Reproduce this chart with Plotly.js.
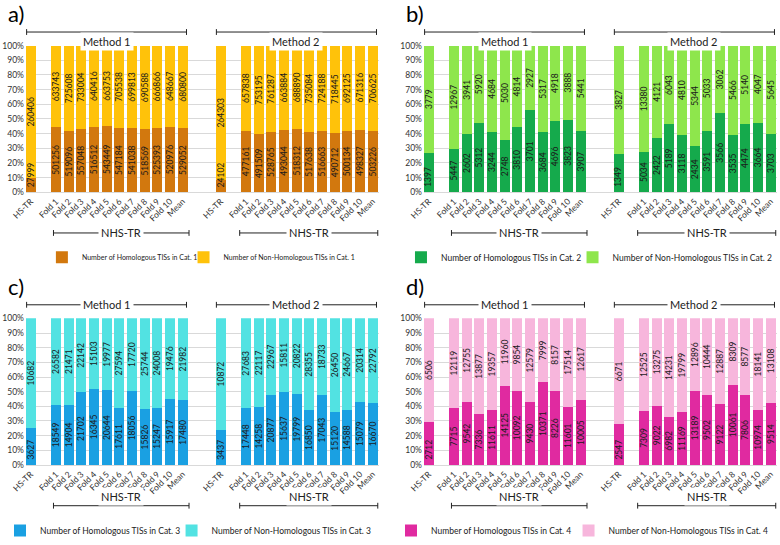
<!DOCTYPE html>
<html>
<head>
<meta charset="utf-8">
<script src="https://cdn.plot.ly/plotly-3.0.1.min.js"></script>
<style>
  body { margin: 0; background: #fff; }
  #graph { width: 780px; height: 545px; }
</style>
</head>
<body>
<div id="graph"></div>
<script>
// bar categories (same for every panel and both methods)
var categories = ['HS-TR', 'Fold 1', 'Fold 2', 'Fold 3', 'Fold 4', 'Fold 5', 'Fold 6',
                  'Fold 7', 'Fold 8', 'Fold 9', 'Fold 10', 'Mean'];

// a) Cat. 1
var cat1M1Hom = [27999, 501256, 519096, 557048, 516512, 543449, 547184, 541038, 518569, 525393, 520976, 529052];
var cat1M1Non = [260406, 633743, 725608, 733004, 640416, 663753, 705538, 699813, 690588, 666866, 648667, 680800];
var cat1M2Hom = [24102, 477161, 491509, 528765, 493044, 518312, 517638, 516663, 490712, 500134, 498327, 503226];
var cat1M2Non = [264303, 657838, 753195, 761287, 663884, 688890, 735084, 724188, 718445, 692125, 671316, 706625];

// b) Cat. 2
var cat2M1Hom = [1397, 5447, 2602, 5312, 3244, 2748, 3810, 3701, 3684, 4696, 3823, 3907];
var cat2M1Non = [3779, 12967, 3941, 5920, 4684, 5030, 4814, 2927, 5317, 4918, 3888, 5441];
var cat2M2Hom = [1349, 5034, 2422, 5189, 3118, 2434, 3591, 3566, 3535, 4474, 3664, 3703];
var cat2M2Non = [3827, 13380, 4121, 6043, 4810, 5344, 5033, 3062, 5466, 5140, 4047, 5645];

// c) Cat. 3
var cat3M1Hom = [3627, 18549, 14904, 21702, 16345, 20644, 17611, 18056, 15826, 15247, 15917, 17480];
var cat3M1Non = [10682, 26582, 21471, 22142, 15103, 19977, 27594, 17720, 25744, 24008, 19476, 21982];
var cat3M2Hom = [3437, 17448, 14258, 20877, 15637, 19799, 16850, 17043, 15120, 14588, 15079, 16670];
var cat3M2Non = [10872, 27683, 22117, 22967, 15811, 20822, 28355, 18733, 26450, 24667, 20314, 22792];

// d) Cat. 4
var cat4M1Hom = [2712, 7715, 9542, 7336, 11611, 14125, 10092, 9430, 10371, 8226, 11601, 10005];
var cat4M1Non = [6506, 12119, 12755, 13877, 19357, 11960, 9854, 12579, 7999, 8157, 17514, 12617];
var cat4M2Hom = [2547, 7309, 9022, 6982, 11169, 13189, 9502, 9122, 10061, 7806, 10974, 9514];
var cat4M2Non = [6671, 12525, 13275, 14231, 19799, 12896, 10444, 12887, 8309, 8577, 18141, 13108];

var W = 780, H = 545;
var narrow = '"Liberation Sans Narrow", Lato, sans-serif';
var labelFont = 'Lato, "Open Sans", sans-serif';

// slot on the x axis: HS-TR, empty slot, folds, mean ; method 2 starts 15 slots later
function slots(offset) {
    return categories.map(function (c, i) { return (i === 0 ? 0 : i + 1) + offset; });
}
var xM1 = slots(0), xM2 = slots(15);
var xPos = xM1.concat(xM2);
var tickText = categories.concat(categories);

var panels = [
    {ax: '', letter: 'a)', cat: 1, m1h: cat1M1Hom, m2h: cat1M2Hom, m1n: cat1M1Non, m2n: cat1M2Non,
     cHom: '#D2780E', cNon: '#FFC20A', x0: 24, x1: 378, top: 47, bot: 198,
     t1: 80, t2: 222, ly: 259, lfont: 7},
    {ax: '2', letter: 'b)', cat: 2, m1h: cat2M1Hom, m2h: cat2M2Hom, m1n: cat2M1Non, m2n: cat2M2Non,
     cHom: '#15AA4C', cNon: '#8EE64C', x0: 423, x1: 777, top: 47, bot: 198,
     t1: 440, t2: 612, ly: 259, lfont: 8.5},
    {ax: '3', letter: 'c)', cat: 3, m1h: cat3M1Hom, m2h: cat3M2Hom, m1n: cat3M1Non, m2n: cat3M2Non,
     cHom: '#1AA0E2', cNon: '#52E2E2', x0: 24, x1: 378, top: 328, bot: 479,
     t1: 38, t2: 210, ly: 541, lfont: 8.5},
    {ax: '4', letter: 'd)', cat: 4, m1h: cat4M1Hom, m2h: cat4M2Hom, m1n: cat4M1Non, m2n: cat4M2Non,
     cHom: '#E02AA0', cNon: '#F7B6DC', x0: 423, x1: 777, top: 328, bot: 479,
     t1: 430, t2: 608, ly: 541, lfont: 8.5}
];

var data = [];
var layout = {
    width: W, height: H,
    margin: {l: 0, r: 0, t: 0, b: 0},
    paper_bgcolor: '#ffffff',
    plot_bgcolor: '#ffffff',
    barmode: 'stack',
    barnorm: 'percent',
    hovermode: false,
    showlegend: true,
    font: {family: labelFont, color: '#222'},
    shapes: [],
    annotations: []
};

function bracket(xref, a, b, ypx, label) {
    var y = 1 - ypx / H, t = 3 / H;
    layout.shapes.push({type: 'line', xref: xref, yref: 'paper', x0: a, x1: b, y0: y, y1: y,
                        line: {color: '#222', width: 1}});
    layout.shapes.push({type: 'line', xref: xref, yref: 'paper', x0: a, x1: a, y0: y - t, y1: y + t,
                        line: {color: '#222', width: 1}});
    layout.shapes.push({type: 'line', xref: xref, yref: 'paper', x0: b, x1: b, y0: y - t, y1: y + t,
                        line: {color: '#222', width: 1}});
    layout.annotations.push({xref: xref, yref: 'paper', x: (a + b) / 2, y: y, text: label,
                             showarrow: false, bgcolor: '#ffffff', borderpad: 2,
                             font: {size: 11, family: labelFont, color: '#222'}});
}

// one small legend per series, so each entry can sit where it is in the reference
function addLegend(name, textX, p) {
    layout[name] = {
        orientation: 'h',
        x: (textX - 40) / W, xanchor: 'left', y: 1 - (p.ly + 6) / H, yanchor: 'middle',
        font: {size: p.lfont, family: narrow, color: '#222'},
        bgcolor: 'rgba(0,0,0,0)', itemwidth: 30
    };
}

panels.forEach(function (p, k) {
    var legHom = 'legend' + (k === 0 ? '' : 2 * k + 1);
    var legNon = 'legend' + (2 * k + 2);
    var xref = 'x' + p.ax, yref = 'y' + p.ax;
    var common = {
        type: 'bar', width: 0.78, x: xPos,
        xaxis: xref, yaxis: yref, showlegend: true,
        textposition: 'inside', insidetextanchor: 'middle', textangle: -90,
        constraintext: 'none', texttemplate: '%{text}',
        textfont: {size: 8.5, family: narrow, color: '#1a1a1a'}
    };
    var hom = p.m1h.concat(p.m2h);
    var non = p.m1n.concat(p.m2n);
    // HS-TR homologous labels are written as annotations so they are not hidden under the upper segment
    data.push(Object.assign({}, common, {
        y: hom, text: hom.map(function (v, i) { return i % 12 === 0 ? '' : String(v); }),
        name: 'Number of Homologous TISs in Cat. ' + p.cat, legend: legHom,
        marker: {color: p.cHom, line: {width: 0}}
    }));
    data.push(Object.assign({}, common, {
        y: non, text: non.map(String),
        name: 'Number of Non-Homologous TISs in Cat. ' + p.cat, legend: legNon,
        marker: {color: p.cNon, line: {width: 0}}
    }));
    [[xM1[0], p.m1h[0]], [xM2[0], p.m2h[0]]].forEach(function (hs) {
        layout.annotations.push({xref: xref, yref: yref, x: hs[0], y: 0, yanchor: 'bottom', yshift: 3,
                                 text: String(hs[1]), textangle: -90, showarrow: false,
                                 font: {size: 8.5, family: narrow, color: '#1a1a1a'}});
    });

    layout['xaxis' + p.ax] = {
        domain: [p.x0 / W, p.x1 / W],
        anchor: yref,
        range: [27.5 - (p.x1 - p.x0) / 12.7, 27.5],
        tickvals: xPos, ticktext: tickText, tickangle: -45,
        tickfont: {size: 8.5, family: narrow, color: '#333'},
        showgrid: false, zeroline: false,
        showline: true, linecolor: '#d9d9d9', ticks: ''
    };
    layout['yaxis' + p.ax] = {
        domain: [1 - p.bot / H, 1 - p.top / H],
        anchor: xref,
        range: [0, 100], dtick: 10, ticksuffix: '%',
        tickfont: {size: 8.5, family: narrow, color: '#333'},
        ticklabelstandoff: 1,
        showgrid: true, gridcolor: '#d9d9d9', zeroline: false, ticks: ''
    };
    addLegend(legHom, p.t1, p);
    addLegend(legNon, p.t2, p);

    bracket(xref, -0.32, 12.3, p.top - 14, 'Method 1');
    bracket(xref, 14.66, 27.3, p.top - 14, 'Method 2');
    bracket(xref, 1.8, 12.5, p.bot + 42, 'NHS-TR');
    bracket(xref, 16.5, 27.4, p.bot + 42, 'NHS-TR');

    layout.annotations.push({xref: 'paper', yref: 'paper', x: (p.x0 - 20) / W, y: 1 - (p.top - 33) / H,
                             xanchor: 'left', yanchor: 'middle', text: p.letter, showarrow: false,
                             font: {size: 22, family: labelFont, color: '#000'}});
});

Plotly.newPlot('graph', data, layout, {staticPlot: true, displayModeBar: false});
</script>
</body>
</html>
